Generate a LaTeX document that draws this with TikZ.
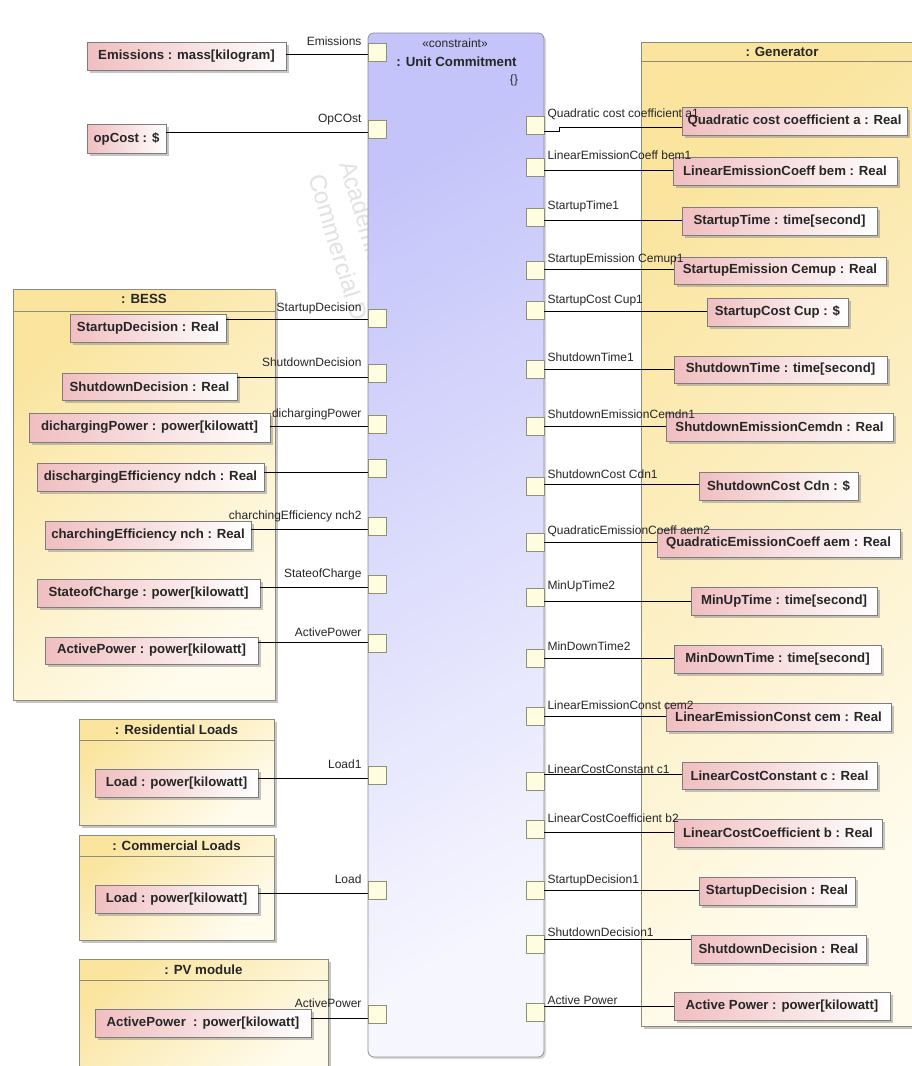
\documentclass[tikz,border=0pt]{standalone}
\usepackage{fontspec}
\setmainfont{Liberation Sans}
\usetikzlibrary{calc,shadows}

\definecolor{itempink}{RGB}{240,190,192}
\definecolor{itemedge}{RGB}{125,125,125}
\definecolor{contyellow}{RGB}{250,228,158}
\definecolor{contlight}{RGB}{255,252,238}
\definecolor{contedge}{RGB}{140,140,120}
\definecolor{ucblue}{RGB}{196,196,250}
\definecolor{uclight}{RGB}{246,246,255}
\definecolor{ucedge}{RGB}{140,140,150}
\definecolor{portfill}{RGB}{254,253,224}
\definecolor{portedge}{RGB}{140,145,120}
\definecolor{wmgray}{RGB}{226,226,226}

% value box of a part: name, x1, y1, x2, y2, text
\newcommand\mkitem[6]{\node[item, minimum width={#4-#2}, minimum height={#5-#3}] (b#1) at ({(#2+#4)/2},{(#3+#5)/2}) {#6};}
% port on the constraint block: name, centre x, centre y
\newcommand\mkport[3]{\node[portbox] (p#1) at (#2,#3) {};}
% connector from a value box to a left-hand port, offset of the wire from the port centre
\newcommand\lwire[2]{\coordinate (w#1) at ($(p#1.west)+(0,#2)$); \draw[wire] (w#1) -- (w#1 -| b#1.east);}
% connector from a right-hand port to a value box
\newcommand\rwire[2]{\coordinate (w#1) at ($(p#1.east)+(0,#2)$); \draw[wire] (w#1) -- (w#1 -| b#1.west);}
% parameter names beside the ports
\newcommand\llabel[2]{\node[lbl, anchor=base east] (l#1) at ($(p#1.west)+(-6,-7)$) {#2};}
\newcommand\rlabel[2]{\node[lbl, anchor=base west] (l#1) at ($(p#1.east)+(3,-7.5)$) {#2};}

\begin{document}
\begin{tikzpicture}[x=1pt,y=-1pt,
  item/.style={draw=itemedge, line width=0.8pt, left color=itempink, right color=white,
    font=\fontsize{13.2}{15}\selectfont\bfseries, inner sep=0pt, text=black!85,
    drop shadow={shadow xshift=2.5pt, shadow yshift=-2.5pt, fill=black!45, opacity=0.5}},
  portbox/.style={draw=portedge, fill=portfill, line width=0.7pt,
    minimum width=18pt, minimum height=18pt, inner sep=0pt},
  wire/.style={line width=0.9pt, black},
  lbl/.style={font=\fontsize{12}{14}\selectfont, inner sep=0pt, text=black!85},
  container/.style={draw=contedge, line width=0.8pt, top color=contyellow, bottom color=contlight,
    shading angle=40, inner sep=0pt,
    drop shadow={shadow xshift=2.5pt, shadow yshift=-2.5pt, fill=black!45, opacity=0.5}},
  hdr/.style={draw=contedge, line width=0.8pt},
  title/.style={font=\fontsize{13.3}{15}\selectfont\bfseries, inner sep=0pt, anchor=base, text=black!85},
  wm/.style={font=\fontsize{24}{28}\selectfont, text=wmgray, inner sep=0pt, anchor=base west, rotate=-73}
]
\useasboundingbox (0,0) rectangle (912,1066);
\clip (0,0) rectangle (912,1066);
\fill[white] (0,0) rectangle (912,1066);

% licence watermark behind the diagram
\node[wm] (wm1) at (339,164) {Academic};
\node[wm] (wm2) at (308,177) {Commercial D};

% part containers
\node[container, minimum width=282, minimum height=984] (gen) at (782,534) {};
\draw[hdr] ($(gen.north west)+(0,20)$) -- ($(gen.north east)+(0,20)$);
\node[title] (tgen) at (782,56) {: Generator};

\node[container, minimum width=262, minimum height=411] (bess) at (144,494.5) {};
\draw[hdr] ($(bess.north west)+(0,23)$) -- ($(bess.north east)+(0,23)$);
\node[title] (tbess) at (144,303) {: BESS};

\node[container, minimum width=195, minimum height=106] (res) at (176.5,772) {};
\draw[hdr] ($(res.north west)+(0,22)$) -- ($(res.north east)+(0,22)$);
\node[title] (tres) at (176.5,734) {: Residential Loads};

\node[container, minimum width=195, minimum height=105] (com) at (176.5,887.5) {};
\draw[hdr] ($(com.north west)+(0,22)$) -- ($(com.north east)+(0,22)$);
\node[title] (tcom) at (176.5,850) {: Commercial Loads};

\node[container, minimum width=249, minimum height=116] (pv) at (203.5,1017) {};
\draw[hdr] ($(pv.north west)+(0,22)$) -- ($(pv.north east)+(0,22)$);
\node[title] (tpv) at (203.5,974) {: PV module};

% constraint block
\node[draw=ucedge, line width=0.8pt, rounded corners=6pt, top color=ucblue, bottom color=uclight,
  shading angle=30, minimum width=176, minimum height=1024, inner sep=0pt,
  drop shadow={shadow xshift=2pt, shadow yshift=-2pt, fill=black!35, opacity=0.4}] (uc) at (456,545) {};
\node[lbl, anchor=base] (ucst) at (455,47) {«constraint»};
\node[title] (ucname) at (456.5,66) {: Unit Commitment};
\node[lbl] (ucbody) at (514,80) {\{\}};

% value boxes, left side
\mkitem{Em}{87}{42}{286}{70}{Emissions : mass[kilogram]}
\mkitem{Op}{87}{124}{166}{153}{opCost : \$}
\mkitem{Bsd}{70}{314}{226}{342}{StartupDecision : Real}
\mkitem{Bsh}{62}{373}{237}{400}{ShutdownDecision : Real}
\mkitem{Bdp}{29}{413}{270}{442}{dichargingPower : power[kilowatt]}
\mkitem{Bde}{37}{463}{264}{491}{dischargingEfficiency ndch : Real}
\mkitem{Bce}{45}{521}{251}{549}{charchingEfficiency nch : Real}
\mkitem{Bsc}{37}{579}{260}{607}{StateofCharge : power[kilowatt]}
\mkitem{Bap}{45}{637}{258}{664}{ActivePower : power[kilowatt]}
\mkitem{Rl}{95}{769}{258}{797}{Load : power[kilowatt]}
\mkitem{Cl}{95}{885}{258}{913}{Load : power[kilowatt]}
\mkitem{Pv}{95}{1009}{311}{1037}{ActivePower\ \ : power[kilowatt]}

% value boxes, generator
\mkitem{G1}{682}{107}{907}{135}{Quadratic cost coefficient a : Real}
\mkitem{G2}{673}{157}{897}{185}{LinearEmissionCoeff bem : Real}
\mkitem{G3}{682}{207}{877}{235}{StartupTime : time[second]}
\mkitem{G4}{674}{257}{886}{284}{StartupEmission Cemup : Real}
\mkitem{G5}{707}{298}{848}{326}{StartupCost Cup : \$}
\mkitem{G6}{674}{356}{887}{383}{ShutdownTime : time[second]}
\mkitem{G7}{666}{413}{893}{441}{ShutdownEmissionCemdn : Real}
\mkitem{G8}{699}{472}{858}{500}{ShutdownCost Cdn : \$}
\mkitem{G9}{657}{529}{900}{557}{QuadraticEmissionCoeff aem : Real}
\mkitem{G10}{691}{587}{877}{615}{MinUpTime : time[second]}
\mkitem{G11}{674}{645}{881}{673}{MinDownTime : time[second]}
\mkitem{G12}{666}{703}{891}{731}{LinearEmissionConst cem : Real}
\mkitem{G13}{682}{762}{877}{789}{LinearCostConstant c : Real}
\mkitem{G14}{674}{819}{882}{847}{LinearCostCoefficient b : Real}
\mkitem{G15}{699}{877}{855}{905}{StartupDecision : Real}
\mkitem{G16}{691}{935}{866}{963}{ShutdownDecision : Real}
\mkitem{G17}{674}{992}{890}{1020}{Active Power : power[kilowatt]}

% ports, left side
\mkport{Em}{377}{52.5}
\mkport{Op}{377}{129}
\mkport{Bsd}{377}{318.5}
\mkport{Bsh}{377}{373}
\mkport{Bdp}{377}{424}
\mkport{Bde}{377}{468}
\mkport{Bce}{377}{526}
\mkport{Bsc}{377}{584.5}
\mkport{Bap}{377}{643}
\mkport{Rl}{377}{775.5}
\mkport{Cl}{377}{890.5}
\mkport{Pv}{377}{1014.5}

% ports, right side
\mkport{G1}{535}{125}
\mkport{G2}{535}{167}
\mkport{G3}{535}{217}
\mkport{G4}{535}{270}
\mkport{G5}{535}{310.5}
\mkport{G6}{535}{369}
\mkport{G7}{535}{426}
\mkport{G8}{535}{486}
\mkport{G9}{535}{542}
\mkport{G10}{535}{597}
\mkport{G11}{535}{658}
\mkport{G12}{535}{716.5}
\mkport{G13}{535}{781}
\mkport{G14}{535}{829.5}
\mkport{G15}{535}{890.5}
\mkport{G16}{535}{944}
\mkport{G17}{535}{1012}

% binding connectors
\lwire{Em}{1.5}
\lwire{Op}{3}
\lwire{Bsd}{0.5}
\lwire{Bsh}{4}
\lwire{Bdp}{2}
\lwire{Bde}{4}
\lwire{Bce}{3}
\lwire{Bsc}{2.5}
\lwire{Bap}{-1}
\lwire{Rl}{2.5}
\lwire{Cl}{2.5}
\lwire{Pv}{3.5}

\coordinate (wG1) at ($(pG1.east)+(0,6)$);
\draw[wire] (wG1) -- ++(15,0) |- ($(bG1.west)+(0,6)$);
\rwire{G2}{3}
\rwire{G3}{3}
\rwire{G4}{-1}
\rwire{G5}{0.5}
\rwire{G6}{0}
\rwire{G7}{0.5}
\rwire{G8}{-2}
\rwire{G9}{0}
\rwire{G10}{4}
\rwire{G11}{0}
\rwire{G12}{-0.5}
\rwire{G13}{-7}
\rwire{G14}{2.5}
\rwire{G15}{-0.5}
\rwire{G16}{-5}
\rwire{G17}{-6}

% parameter names
\llabel{Em}{Emissions}
\llabel{Op}{OpCOst}
\llabel{Bsd}{StartupDecision}
\llabel{Bsh}{ShutdownDecision}
\llabel{Bdp}{dichargingPower}
\llabel{Bce}{charchingEfficiency nch2}
\llabel{Bsc}{StateofCharge}
\llabel{Bap}{ActivePower}
\llabel{Rl}{Load1}
\llabel{Cl}{Load}
\llabel{Pv}{ActivePower}

\rlabel{G1}{Quadratic cost coefficient a1}
\rlabel{G2}{LinearEmissionCoeff bem1}
\rlabel{G3}{StartupTime1}
\rlabel{G4}{StartupEmission Cemup1}
\rlabel{G5}{StartupCost Cup1}
\rlabel{G6}{ShutdownTime1}
\rlabel{G7}{ShutdownEmissionCemdn1}
\rlabel{G8}{ShutdownCost Cdn1}
\rlabel{G9}{QuadraticEmissionCoeff aem2}
\rlabel{G10}{MinUpTime2}
\rlabel{G11}{MinDownTime2}
\rlabel{G12}{LinearEmissionConst cem2}
\rlabel{G13}{LinearCostConstant c1}
\rlabel{G14}{LinearCostCoefficient b2}
\rlabel{G15}{StartupDecision1}
\rlabel{G16}{ShutdownDecision1}
\rlabel{G17}{Active Power}
\end{tikzpicture}
\end{document}
